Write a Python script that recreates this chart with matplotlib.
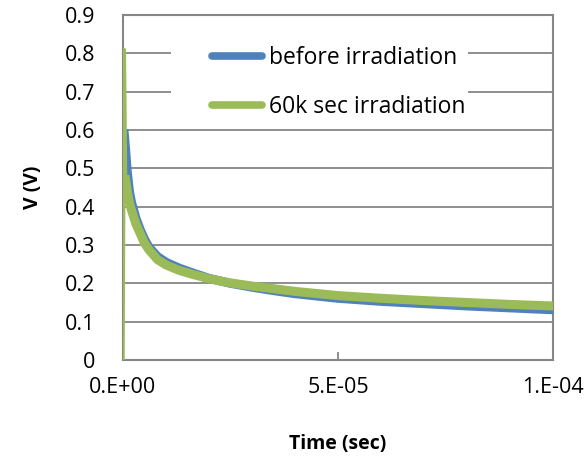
import matplotlib
matplotlib.use("Agg")
from matplotlib import pyplot as plt
from matplotlib.patches import Rectangle
from matplotlib.ticker import FixedLocator, FixedFormatter

# время, с
t = [0, 0.3e-6, 0.6e-6, 1e-6, 1.5e-6, 2e-6, 3e-6, 4e-6, 5e-6, 6e-6, 8e-6,
     1e-5, 1.3e-5, 1.6e-5, 2e-5, 2.5e-5, 3e-5, 3.5e-5, 4e-5, 5e-5,
     6e-5, 7e-5, 8e-5, 9e-5, 1e-4]

v_before = [0, 0.59, 0.55, 0.49, 0.44, 0.41, 0.37, 0.34, 0.315, 0.295, 0.27,
            0.255, 0.24, 0.228, 0.213, 0.2, 0.19, 0.181, 0.173, 0.161,
            0.153, 0.147, 0.141, 0.136, 0.131]

v_60k = [0, 0.81, 0.47, 0.44, 0.41, 0.39, 0.355, 0.33, 0.305, 0.288, 0.262,
         0.248, 0.234, 0.224, 0.212, 0.201, 0.193, 0.186, 0.179, 0.168,
         0.161, 0.155, 0.15, 0.145, 0.141]

x_ticks = [0, 5e-5, 1e-4]
x_labels = ['0.E+00', '5.E-05', '1.E-04']
y_ticks = [0, 0.1, 0.2, 0.3, 0.4, 0.5, 0.6, 0.7, 0.8, 0.9]
y_labels = ['0', '0.1', '0.2', '0.3', '0.4', '0.5', '0.6', '0.7', '0.8', '0.9']

blue = '#4F81BD'
green = '#9BBB59'
gray = '#868686'

plt.rcParams['font.family'] = ['Open Sans', 'DejaVu Sans']

fig = plt.figure(figsize=(5.84, 4.57), dpi=100)
ax = fig.add_axes([123 / 584, 1 - 360 / 457, 430 / 584, 345 / 457])

# синяя кривая без начального нуля (он скрыт под зелёным выбросом)
ax.plot(t[1:], v_before[1:], color=blue, lw=6.5, solid_joinstyle='round', zorder=3)
ax.plot(t[:3], v_60k[:3], color=green, lw=2.5, zorder=4)
ax.plot(t[2:], v_60k[2:], color=green, lw=6.5, solid_joinstyle='round', zorder=4)

ax.set_xlim(0, 1e-4)
ax.set_ylim(0, 0.9)
ax.xaxis.set_major_locator(FixedLocator(x_ticks))
ax.xaxis.set_major_formatter(FixedFormatter(x_labels))
ax.yaxis.set_major_locator(FixedLocator(y_ticks))
ax.yaxis.set_major_formatter(FixedFormatter(y_labels))

ax.grid(axis='y', color=gray, lw=1.3, zorder=1)
ax.tick_params(axis='x', direction='in', length=6, width=1.3, color=gray,
               pad=12, labelsize=15.5)
ax.tick_params(axis='y', direction='in', length=0, pad=20, labelsize=15.5)
for s in ax.spines.values():
    s.set_color(gray)
    s.set_linewidth(1.5)

# белая подложка легенды поверх сетки
ax.add_patch(Rectangle((0.112, 0.681), 0.69, 0.27, transform=ax.transAxes,
                       facecolor='white', edgecolor='none', zorder=2))

h1 = plt.Line2D([], [], color=blue, lw=5.5, solid_capstyle='round')
h2 = plt.Line2D([], [], color=green, lw=5.5, solid_capstyle='round')
ax.legend([h1, h2], ['before irradiation', '60k sec irradiation'],
          loc='upper left', bbox_to_anchor=(0.207, 0.91), frameon=False,
          fontsize=16.5, handlelength=2.2, handletextpad=0.3,
          labelspacing=1.08, borderpad=0, borderaxespad=0)

ax.set_xlabel('Time (sec)', fontsize=14, fontweight='bold', labelpad=26)
ax.set_ylabel('V (V)', fontsize=14, fontweight='bold', labelpad=16)

fig.savefig('out.png', dpi=100)
